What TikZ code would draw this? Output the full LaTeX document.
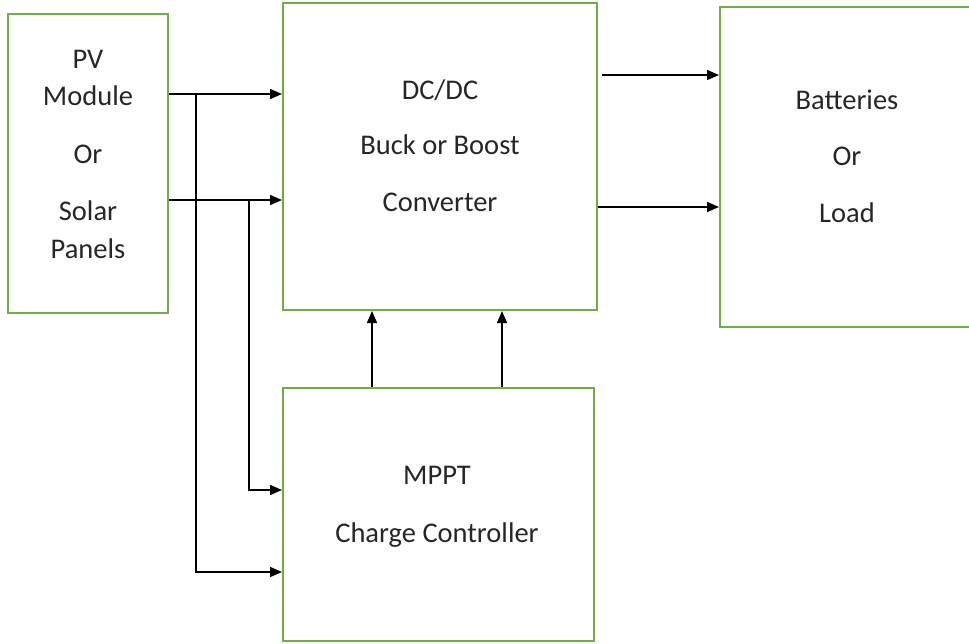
\documentclass[tikz,border=0pt]{standalone}
\usepackage{fontspec}
\setmainfont{Carlito}
\usetikzlibrary{arrows.meta}
\definecolor{boxgreen}{HTML}{70AD47}
\definecolor{txt}{HTML}{262626}
\tikzset{
  box/.style={draw=boxgreen, line width=2pt, inner sep=0pt},
  lbl/.style={anchor=base, inner sep=0pt, text=txt, font=\fontsize{28.5pt}{32pt}\selectfont},
  arr/.style={line width=1.5pt, -{Triangle[length=12pt,width=10pt]}},
  ln/.style={line width=1.5pt}
}
\begin{document}
\begin{tikzpicture}[x=1pt,y=-1pt]
\useasboundingbox (0,0) rectangle (969,643);
% boxes
\node[box, minimum width=160pt, minimum height=299pt] (pv) at (88,163.5) {};
\node[box, minimum width=314pt, minimum height=307pt] (dc) at (440,156.5) {};
\node[box, minimum width=260pt, minimum height=320pt] (bat) at (850,167) {};
\node[box, minimum width=311pt, minimum height=253pt] (mppt) at (438.5,514.5) {};
% texts
\node[lbl] (t1) at (88,68) {PV};
\node[lbl] (t2) at (88,105) {Module};
\node[lbl] (t3) at (88,163) {Or};
\node[lbl] (t4) at (88,220) {Solar};
\node[lbl] (t5) at (88,258) {Panels};
\node[lbl] (d1) at (440,99) {DC/DC};
\node[lbl] (d2) at (440,154) {Buck or Boost};
\node[lbl] (d3) at (440,211) {Converter};
\node[lbl] (b1) at (847,109) {Batteries};
\node[lbl] (b2) at (847,165) {Or};
\node[lbl] (b3) at (847,222) {Load};
\node[lbl] (m1) at (437,484) {MPPT};
\node[lbl] (m2) at (437,542) {Charge Controller};
% connection points
\coordinate (pvA) at (pv.east |- 0,94);
\coordinate (pvB) at (pv.east |- 0,200);
\coordinate (dcA) at (dc.west |- 0,94);
\coordinate (dcB) at (dc.west |- 0,200);
\coordinate (j1) at (196,94);
\coordinate (j2) at (249,200);
\coordinate (k1) at (196,572);
\coordinate (k2) at (249,490);
\coordinate (mA) at (mppt.west |- 0,572);
\coordinate (mB) at (mppt.west |- 0,490);
\coordinate (u1) at (mppt.north -| 372,0);
\coordinate (u2) at (mppt.north -| 502,0);
\coordinate (v1) at (dc.south -| 372,0);
\coordinate (v2) at (dc.south -| 502,0);
\coordinate (oA) at (dc.east |- 0,75);
\coordinate (oB) at (dc.east |- 0,207);
\coordinate (iA) at (bat.west |- 0,75);
\coordinate (iB) at (bat.west |- 0,207);
% connectors
\draw[arr] (pvA) -- (dcA);
\draw[arr] (pvB) -- (dcB);
\draw[arr] (j1) -- (k1) -- (mA);
\draw[arr] (j2) -- (k2) -- (mB);
\draw[arr] (u1) -- (v1);
\draw[arr] (u2) -- (v2);
\draw[arr] ([xshift=4pt]oA) -- (iA);
\draw[arr] (oB) -- (iB);
\end{tikzpicture}
\end{document}
